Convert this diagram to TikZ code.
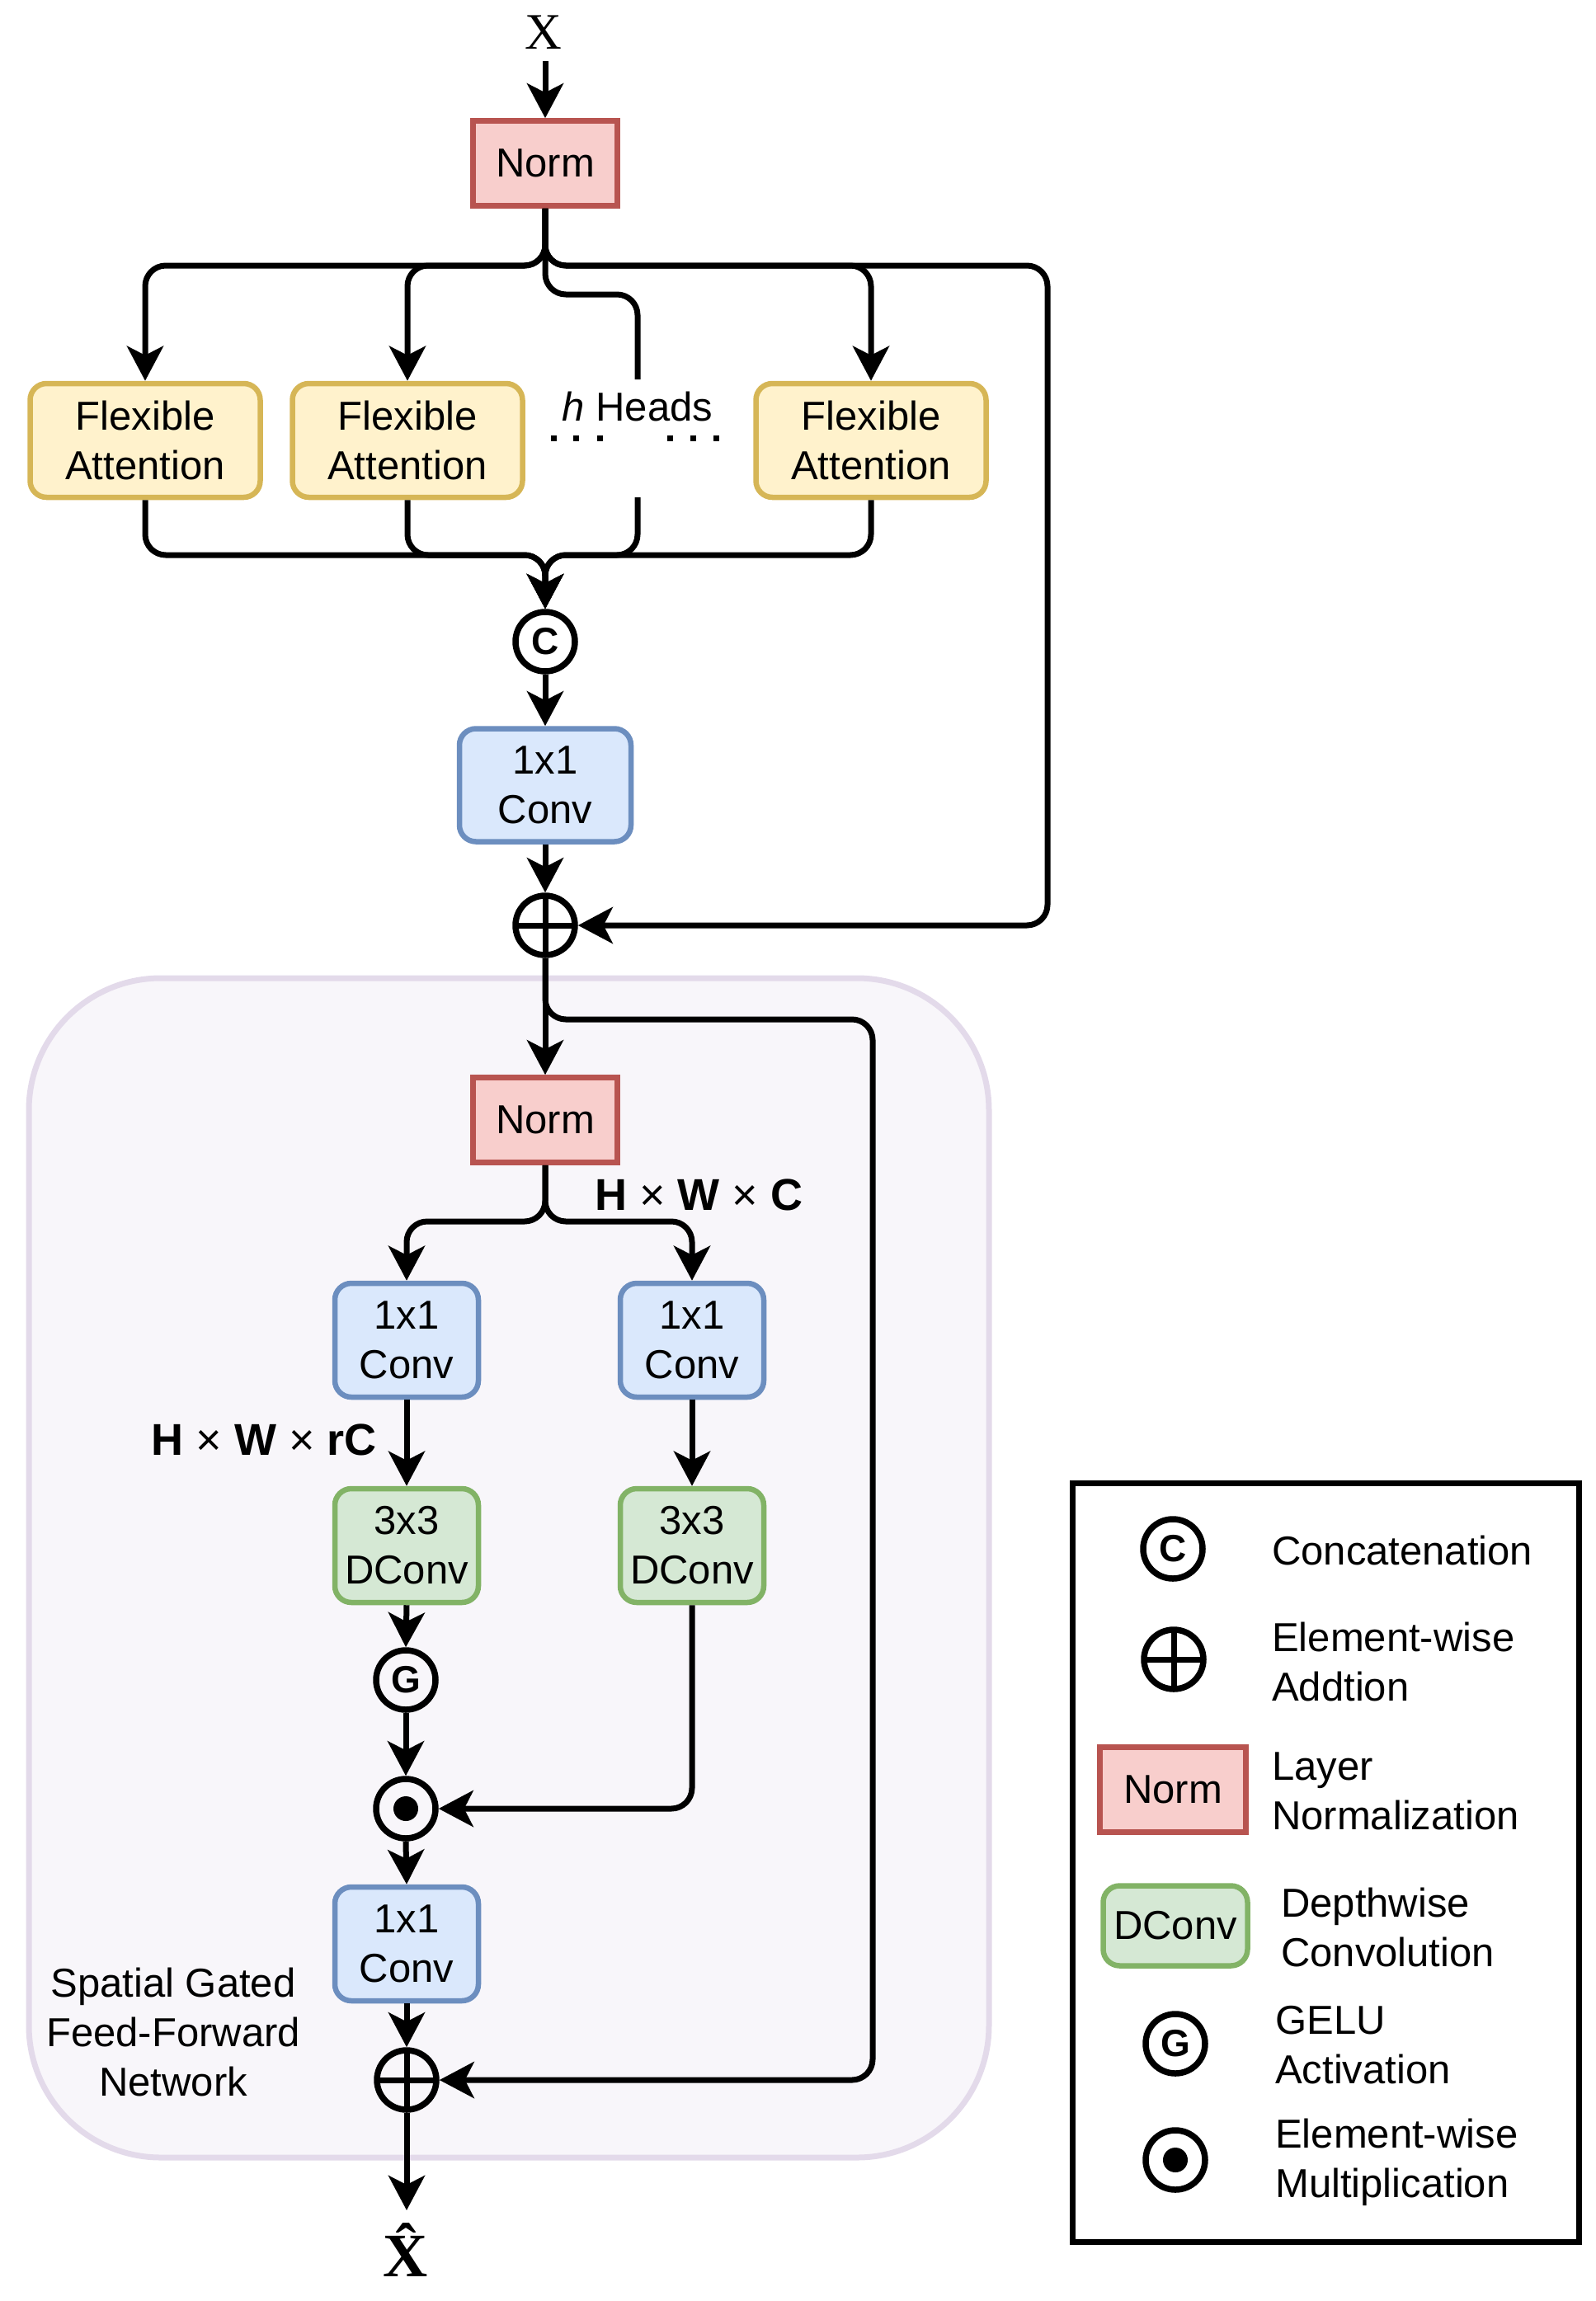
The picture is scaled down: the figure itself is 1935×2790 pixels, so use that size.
\documentclass[tikz,border=0pt]{standalone}
\usepackage{fontspec}
\setmainfont{Liberation Sans}
\newfontfamily\serifX{Liberation Serif}
\usetikzlibrary{arrows.meta,shapes.geometric}
\definecolor{normfill}{HTML}{F8CECC}
\definecolor{normdraw}{HTML}{B85450}
\definecolor{fafill}{HTML}{FFF2CC}
\definecolor{fadraw}{HTML}{D6B656}
\definecolor{convfill}{HTML}{DAE8FC}
\definecolor{convdraw}{HTML}{6C8EBF}
\definecolor{dcfill}{HTML}{D5E8D4}
\definecolor{dcdraw}{HTML}{82B366}
\definecolor{bgfill}{HTML}{F8F6FA}
\definecolor{bgdraw}{HTML}{E3DAEA}
\newcommand{\boxfnt}{\fontsize{49}{60}\selectfont}
\newcommand{\lblfnt}{\fontsize{54}{60}\selectfont}
\newcommand{\symfnt}{\fontsize{46}{46}\selectfont\bfseries}
\newcommand{\tms}{{\mdseries ×}}
\begin{document}
\begin{tikzpicture}[x=1pt,y=-1pt,
  conn/.style={line width=7pt, rounded corners=25pt},
  arr/.style={conn, -{Stealth[length=42pt,width=44pt,inset=11pt]}},
  box/.style={draw, line width=6.5pt, inner sep=0pt, align=center, font=\boxfnt},
  normbox/.style={box, fill=normfill, draw=normdraw, minimum width=175pt, minimum height=103pt},
  fabox/.style={box, rounded corners=20pt, fill=fafill, draw=fadraw, minimum width=279pt, minimum height=138pt},
  convbox/.style={box, rounded corners=20pt, fill=convfill, draw=convdraw, minimum width=174pt, minimum height=138pt},
  dcbox/.style={box, rounded corners=20pt, fill=dcfill, draw=dcdraw, minimum width=174pt, minimum height=138pt},
  opc/.style={circle, draw, line width=7.5pt, minimum size=72pt, inner sep=0pt, font=\symfnt},
  legtxt/.style={anchor=west, align=left, font=\boxfnt, inner sep=0pt}
]
\useasboundingbox (0,0) rectangle (1935,2790);

% background of the feed-forward block
\draw[line width=7pt, draw=bgdraw, fill=bgfill, rounded corners=160pt] (35,1186) rectangle (1199,2616);

% ---------- attention block ----------
\node[font=\serifX\fontsize{62}{62}\selectfont, inner sep=0pt] (X) at (659,39) {X};
\coordinate (Xs) at (661,74);
\node[normbox] (N1) at (661,198) {Norm};
\node[fabox] (FA1) at (176,534) {Flexible\\Attention};
\node[fabox] (FA2) at (494,534) {Flexible\\Attention};
\node[fabox] (FA3) at (1056,534) {Flexible\\Attention};
\node[font=\boxfnt, anchor=base, inner sep=0pt] (HH) at (773,510) {\textit{h} Heads};
\foreach \dx in {671,698,727,812,840,868}{\fill (\dx-3.5,527.5) rectangle (\dx+3.5,534.5);}
\coordinate (Ht) at (773,460);
\coordinate (Hb) at (773,603);
\node[opc] (C1) at (661,778) {C};
\node[convbox, minimum width=208pt, minimum height=137pt] (CV1) at (661,952) {1x1\\Conv};
\node[opc] (P1) at (661,1122) {};
\draw[line width=7pt] ([yshift=-36pt]P1.center) -- ([yshift=36pt]P1.center) ([xshift=-36pt]P1.center) -- ([xshift=36pt]P1.center);

\draw[arr] (Xs) -- (N1.north);
\draw[arr] (N1.south) -- (661,322) -- (176,322) -- (FA1.north);
\draw[arr] (N1.south) -- (661,322) -- (494,322) -- (FA2.north);
\draw[arr] (N1.south) -- (661,322) -- (1056,322) -- (FA3.north);
\draw[arr] (N1.south) -- (661,322) -- (1270,322) -- (1270,1122) -- (P1.east);
\draw[conn] (N1.south) -- (661,357) -- (773,357) -- (Ht);
\draw[arr] (FA1.south) -- (176,673) -- (661,673) -- (C1.north);
\draw[arr] (FA2.south) -- (494,673) -- (661,673) -- (C1.north);
\draw[arr] (Hb) -- (773,673) -- (661,673) -- (C1.north);
\draw[arr] (FA3.south) -- (1056,673) -- (661,673) -- (C1.north);
\draw[arr] (C1.south) -- (CV1.north);
\draw[arr] (CV1.south) -- (P1.north);

% ---------- feed-forward block ----------
\node[normbox] (N2) at (661,1358) {Norm};
\node[convbox] (CL) at (493,1625) {1x1\\Conv};
\node[convbox] (CR) at (839,1625) {1x1\\Conv};
\node[dcbox] (DL) at (493,1874) {3x3\\DConv};
\node[dcbox] (DR) at (839,1874) {3x3\\DConv};
\node[opc] (G1) at (492,2037) {G};
\node[opc] (M1) at (492,2193) {};
\fill (M1.center) circle (15pt);
\node[convbox] (C3) at (493,2357) {1x1\\Conv};
\node[opc] (P2) at (493,2522) {};
\draw[line width=7pt] ([yshift=-36pt]P2.center) -- ([yshift=36pt]P2.center) ([xshift=-36pt]P2.center) -- ([xshift=36pt]P2.center);
\node[font=\serifX\bfseries\fontsize{75}{75}\selectfont, inner sep=0pt, anchor=base] (XH) at (492,2760) {\^{X}};
\coordinate (XHt) at (493,2680);

\node[font=\lblfnt, anchor=base west, inner sep=0pt] (L1) at (721,1467) {\textbf{H} \tms{} \textbf{W} \tms{} \textbf{C}};
\node[font=\lblfnt, anchor=base east, inner sep=0pt] (L2) at (457,1764) {\textbf{H} \tms{} \textbf{W} \tms{} \textbf{rC}};
\node[font=\boxfnt, align=center, inner sep=0pt] (SG) at (210,2464) {Spatial Gated\\Feed-Forward\\Network};

\draw[arr] (P1.south) -- (N2.north);
\draw[arr] (P1.south) -- (661,1236) -- (1058,1236) -- (1058,2522) -- (P2.east);
\draw[arr] (N2.south) -- (661,1481) -- (493,1481) -- (CL.north);
\draw[arr] (N2.south) -- (661,1481) -- (839,1481) -- (CR.north);
\draw[arr] (CL.south) -- (DL.north);
\draw[arr] (CR.south) -- (DR.north);
\draw[arr] (DL.south) -- (G1.north);
\draw[arr] (G1.south) -- (M1.north);
\draw[arr] (DR.south) -- (839,2193) -- (M1.east);
\draw[arr] (M1.south) -- (C3.north);
\draw[arr] (C3.south) -- (P2.north);
\draw[arr] (P2.south) -- (XHt);

% ---------- legend ----------
\draw[line width=7pt] (1300,1798) rectangle (1914,2718);
\node[opc] (LC) at (1422,1878) {C};
\node[opc] (LP) at (1423,2012) {};
\draw[line width=7pt] ([yshift=-36pt]LP.center) -- ([yshift=36pt]LP.center) ([xshift=-36pt]LP.center) -- ([xshift=36pt]LP.center);
\node[normbox, minimum width=177pt] (LN) at (1422,2170) {Norm};
\node[dcbox, minimum width=175pt, minimum height=97pt] (LD) at (1425,2335) {DConv};
\node[opc] (LG) at (1425,2478) {G};
\node[opc] (LM) at (1425,2619) {};
\fill (LM.center) circle (15pt);
\node[legtxt] (T1) at (1542,1880) {Concatenation};
\node[legtxt] (T2) at (1542,2015) {Element-wise\\Addtion};
\node[legtxt] (T3) at (1542,2172) {Layer\\Normalization};
\node[legtxt] (T4) at (1553,2337) {Depthwise\\Convolution};
\node[legtxt] (T5) at (1546,2480) {GELU\\Activation};
\node[legtxt] (T6) at (1546,2622) {Element-wise\\Multiplication};
\end{tikzpicture}
\end{document}
